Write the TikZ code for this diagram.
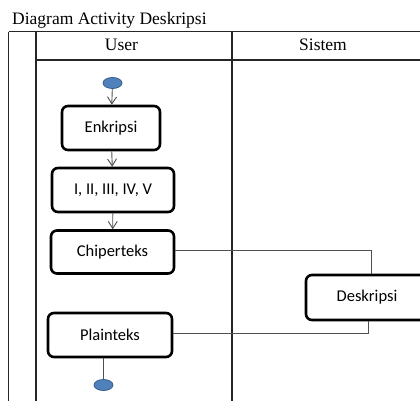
\documentclass[tikz,border=0pt]{standalone}
\usepackage{fontspec}
\setmainfont{Liberation Serif}
\newfontfamily\boxfont{Carlito}
\usetikzlibrary{arrows.meta,shapes.geometric}

\definecolor{nodeblue}{HTML}{4F81BD}
\definecolor{nodeedge}{HTML}{385D8A}
\definecolor{wire}{HTML}{505050}

\tikzset{
  activity/.style={draw=black, line width=2.6pt, rounded corners=6pt,
    fill=white, inner sep=0pt, font=\boxfont\fontsize{16.5}{18}\selectfont},
  terminal/.style={ellipse, draw=nodeedge, line width=0.8pt, fill=nodeblue,
    minimum width=19pt, minimum height=11pt, inner sep=0pt},
  grid/.style={draw=black!85, line width=1.1pt},
  flow/.style={draw=wire, line width=0.9pt, -{Straight Barb[length=7pt,width=9pt]}},
  link/.style={draw=wire, line width=0.9pt},
  heading/.style={anchor=base, inner sep=0pt, font=\fontsize{17.5}{20}\selectfont}
}

\begin{document}
\begin{tikzpicture}[x=1pt, y=-1pt]
  \useasboundingbox (0,0) rectangle (420,407);
  \clip (0,0) rectangle (420,407);

  % title
  \node[heading, anchor=base west] (title) at (12,24) {Diagram Activity Deskripsi};

  % swimlane table
  \draw[grid] (8.5,31.5) -- (420,31.5);
  \draw[grid] (36,60) -- (420,60);
  \draw[grid] (8.5,31.5) -- (8.5,401);
  \draw[grid] (36,31.5) -- (36,401);
  \draw[grid] (232,31.5) -- (232,401);

  \node[heading] (user) at (121.5,50) {User};
  \node[heading] (sistem) at (323,50) {Sistem};

  % activities
  \node[terminal] (start) at (112.5,83) {};
  \node[activity, minimum width=98pt, minimum height=44pt] (enk) at (111,128) {Enkripsi};
  \node[activity, minimum width=122pt, minimum height=44pt] (rom) at (113,190) {I, II, III, IV, V};
  \node[activity, minimum width=123pt, minimum height=43pt] (chip) at (112.5,252) {Chiperteks};
  \node[activity, minimum width=122pt, minimum height=45pt] (desk) at (367,297.5) {Deskripsi};
  \node[activity, minimum width=124pt, minimum height=44pt] (plain) at (110,335) {Plainteks};
  \node[terminal] (stop) at (103.5,385) {};

  % control flow
  \draw[flow] (start) -- (enk);
  \draw[flow] (enk) -- (rom);
  \draw[flow] (rom) -- (chip);
  \draw[link] ([yshift=2pt]chip.east) -| ([xshift=4pt]desk.north);
  \draw[link] ([xshift=1pt]desk.south) |- ([yshift=2pt]plain.east);
  \draw[link] (plain.south -| stop) -- (stop);
\end{tikzpicture}
\end{document}
